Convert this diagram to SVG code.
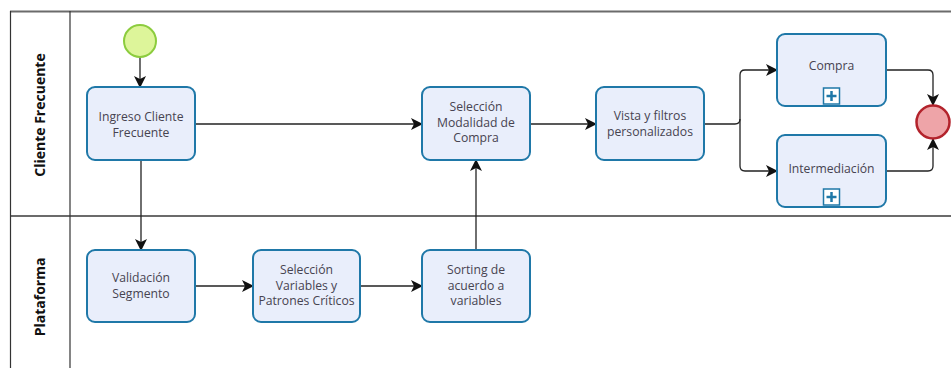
<svg xmlns="http://www.w3.org/2000/svg" width="951" height="368" viewBox="0 0 951 368">
  <style>
    .pool { stroke: #333; stroke-width: 1.2; fill: none; }
    .laneline { stroke: #6b6b6b; stroke-width: 2; fill: none; }
    .lane-label { font-family: "Open Sans", "Noto Sans", sans-serif; font-size: 14px; font-weight: bold; fill: #111; text-anchor: middle; }
    .task { fill: #e9eefb; stroke: #1f78a8; stroke-width: 2; }
    .label { font-family: "Open Sans", "Noto Sans", sans-serif; font-size: 12.2px; fill: #474350; text-anchor: middle; }
    .flow { stroke: #222; stroke-width: 1.3; fill: none; marker-end: url(#arrow); }
    .flow-plain { stroke: #222; stroke-width: 1.3; fill: none; }
    .marker-box { fill: #ffffff; stroke: #1f78a8; stroke-width: 1.5; }
    .marker-plus { stroke: #1f78a8; stroke-width: 2.5; }
  </style>
  <defs>
    <marker id="arrow" viewBox="0 0 12 12" refX="11" refY="6" markerWidth="12" markerHeight="12" markerUnits="userSpaceOnUse" orient="auto">
      <path d="M0,0 L12,6 L0,12 L3,6 z" fill="#111"/>
    </marker>
  </defs>

  <rect width="951" height="368" fill="#ffffff"/>

  <!-- pool and lanes -->
  <g id="pool">
    <line class="laneline" x1="10" y1="11.5" x2="951" y2="11.5"/>
    <line class="laneline" x1="10" y1="216" x2="951" y2="216"/>
    <line class="pool" x1="10.5" y1="11" x2="10.5" y2="368"/>
    <line class="pool" x1="70" y1="11" x2="70" y2="368"/>
    <text class="lane-label" transform="translate(45,115) rotate(-90)">Cliente Frecuente</text>
    <text class="lane-label" transform="translate(45,297) rotate(-90)">Plataforma</text>
  </g>

  <!-- connectors -->
  <g id="connectors">
    <line class="flow" x1="140" y1="57" x2="140" y2="87"/>
    <line class="flow" x1="195" y1="124" x2="422" y2="124"/>
    <line class="flow" x1="530" y1="124" x2="596" y2="124"/>
    <line class="flow" x1="141" y1="160" x2="141" y2="250"/>
    <line class="flow" x1="195" y1="286" x2="253" y2="286"/>
    <line class="flow" x1="360" y1="286" x2="422" y2="286"/>
    <line class="flow" x1="476" y1="250" x2="476" y2="160"/>
    <path class="flow-plain" d="M704,124 H735 Q740,124 740,119"/>
    <path class="flow" d="M740,124 V75 Q740,70 745,70 H777"/>
    <path class="flow" d="M740,124 V166 Q740,171 745,171 H777"/>
    <path class="flow" d="M886,70 H928 Q933,70 933,75 V105"/>
    <path class="flow" d="M886,171 H928 Q933,171 933,166 V139"/>
  </g>

  <!-- events -->
  <g id="start">
    <circle cx="140" cy="41" r="16" fill="#ddf59a" stroke="#8ccc3e" stroke-width="2"/>
  </g>
  <g id="end">
    <circle cx="933" cy="122" r="16.5" fill="#eea4a8" stroke="#b3232c" stroke-width="2.5"/>
  </g>

  <!-- tasks -->
  <g id="ingreso">
    <rect class="task" x="87" y="87" width="108" height="73" rx="8"/>
    <text class="label" x="141" y="120.5">Ingreso Cliente</text>
    <text class="label" x="141" y="136.5">Frecuente</text>
  </g>
  <g id="validacion">
    <rect class="task" x="87" y="250" width="108" height="72" rx="8"/>
    <text class="label" x="141" y="281.5">Validación</text>
    <text class="label" x="141" y="297.5">Segmento</text>
  </g>
  <g id="seleccion-variables">
    <rect class="task" x="253" y="250" width="107" height="72" rx="8"/>
    <text class="label" x="306.5" y="274">Selección</text>
    <text class="label" x="306.5" y="289.5">Variables y</text>
    <text class="label" x="306.5" y="305">Patrones Críticos</text>
  </g>
  <g id="sorting">
    <rect class="task" x="422" y="250" width="108" height="72" rx="8"/>
    <text class="label" x="476" y="274">Sorting de</text>
    <text class="label" x="476" y="289.5">acuerdo a</text>
    <text class="label" x="476" y="305">variables</text>
  </g>
  <g id="seleccion-modalidad">
    <rect class="task" x="422" y="87" width="108" height="73" rx="8"/>
    <text class="label" x="476" y="111">Selección</text>
    <text class="label" x="476" y="126.5">Modalidad de</text>
    <text class="label" x="476" y="142">Compra</text>
  </g>
  <g id="vista">
    <rect class="task" x="596" y="87" width="108" height="73" rx="8"/>
    <text class="label" x="650" y="119.5">Vista y filtros</text>
    <text class="label" x="650" y="135.5">personalizados</text>
  </g>
  <g id="compra">
    <rect class="task" x="777" y="34" width="109" height="72" rx="8"/>
    <text class="label" x="831.5" y="70">Compra</text>
    <rect class="marker-box" x="823.5" y="88" width="16" height="16"/>
    <line class="marker-plus" x1="826.5" y1="96" x2="836.5" y2="96"/>
    <line class="marker-plus" x1="831.5" y1="91" x2="831.5" y2="101"/>
  </g>
  <g id="intermediacion">
    <rect class="task" x="777" y="135" width="109" height="72" rx="8"/>
    <text class="label" x="831.5" y="173">Intermediación</text>
    <rect class="marker-box" x="823.5" y="189" width="16" height="16"/>
    <line class="marker-plus" x1="826.5" y1="197" x2="836.5" y2="197"/>
    <line class="marker-plus" x1="831.5" y1="192" x2="831.5" y2="202"/>
  </g>
</svg>
